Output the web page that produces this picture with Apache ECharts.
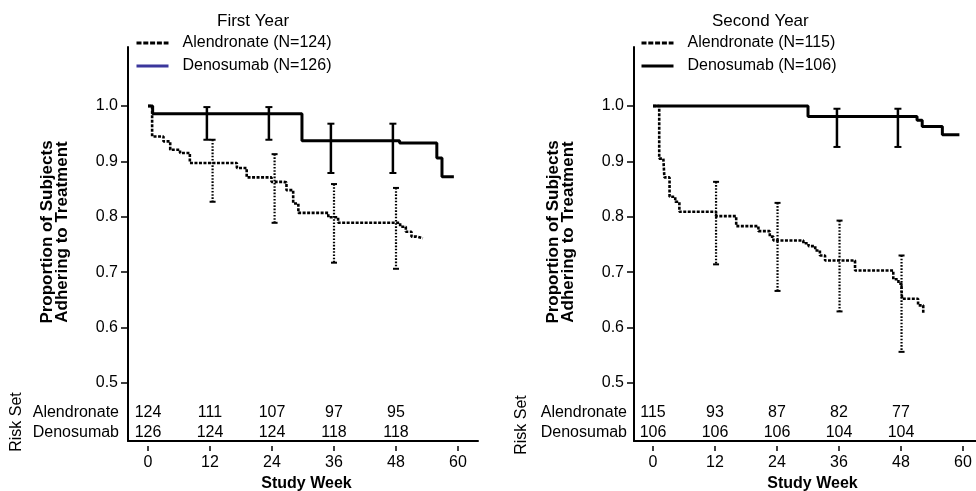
<!DOCTYPE html>
<html>
<head>
<meta charset="utf-8">
<script src="https://cdn.jsdelivr.net/npm/echarts@6/dist/echarts.min.js"></script>
<style>html,body{margin:0;padding:0;background:#fff}#c{width:976px;height:491px}</style>
</head>
<body>
<div id="c"></div>
<script>
// ---------- data ----------
const panelTitles = ['First Year', 'Second Year'];
const alenNames = ['Alendronate (N=124)', 'Alendronate (N=115)'];
const denoNames = ['Denosumab (N=126)', 'Denosumab (N=106)'];
const xTicks = [0, 12, 24, 36, 48, 60];
const yTicks = [0.5, 0.6, 0.7, 0.8, 0.9, 1.0];
const riskWeeks = [0, 12, 24, 36, 48];
const riskRowNames = ['Alendronate', 'Denosumab'];

// First year KM curves
const y1AlenWeeks  = [0, 0.8, 3.0, 4.3, 6.2, 8.1, 17.2, 19.1, 23.9, 26.2, 26.8, 28.1, 29.1, 34.9, 36.8, 48.8, 49.9, 51.0, 52.0, 53.2];
const y1AlenValues = [1.0, 0.945, 0.936, 0.921, 0.915, 0.897, 0.888, 0.871, 0.863, 0.862, 0.848, 0.824, 0.807, 0.799, 0.789, 0.782, 0.773, 0.764, 0.761, 0.761];
const y1DenoWeeks  = [0, 0.9, 29.8, 48.7, 55.9, 56.9, 59.2];
const y1DenoValues = [1.0, 0.986, 0.937, 0.933, 0.906, 0.872, 0.872];
// First year error bars
const y1AlenErrWeeks = [12.5, 24.5, 36.0, 48.0];
const y1AlenErrLow   = [0.827, 0.789, 0.717, 0.706];
const y1AlenErrHigh  = [0.939, 0.913, 0.859, 0.852];
const y1DenoErrWeeks = [11.4, 23.4, 35.4, 47.4];
const y1DenoErrLow   = [0.939, 0.939, 0.879, 0.879];
const y1DenoErrHigh  = [0.998, 0.998, 0.968, 0.968];
// First year risk set
const y1RiskAlen = [124, 111, 107, 97, 95];
const y1RiskDeno = [126, 124, 124, 118, 118];

// Second year KM curves
const y2AlenWeeks  = [0, 1.2, 2.0, 2.2, 3.2, 4.3, 5.1, 12.2, 16.1, 20.4, 22.6, 23.3, 29.1, 30.1, 31.4, 32.3, 33.3, 39.1, 46.5, 47.5, 48.1, 48.2, 51.3, 52.3];
const y2AlenValues = [1.0, 0.905, 0.902, 0.871, 0.836, 0.827, 0.809, 0.801, 0.783, 0.774, 0.764, 0.757, 0.752, 0.747, 0.739, 0.730, 0.721, 0.703, 0.687, 0.679, 0.667, 0.652, 0.640, 0.625];
const y2DenoWeeks  = [0, 30.0, 51.1, 52.1, 56.0, 59.3];
const y2DenoValues = [1.0, 0.981, 0.974, 0.963, 0.948, 0.948];
// Second year error bars
const y2AlenErrWeeks = [12.2, 24.1, 36.1, 48.1];
const y2AlenErrLow   = [0.714, 0.666, 0.629, 0.556];
const y2AlenErrHigh  = [0.863, 0.825, 0.793, 0.730];
const y2DenoErrWeeks = [35.6, 47.4];
const y2DenoErrLow   = [0.926, 0.926];
const y2DenoErrHigh  = [0.995, 0.995];
// Second year risk set
const y2RiskAlen = [115, 93, 87, 82, 77];
const y2RiskDeno = [106, 106, 106, 104, 104];

// ---------- build ----------
const FONT = '"Liberation Sans", Arial, Helvetica, sans-serif';
const zip = (a, b) => a.map((v, i) => [v, b[i]]);
const zip3 = (a, b, c) => a.map((v, i) => [v, b[i], c[i]]);

const panels = [
  { alen: zip(y1AlenWeeks, y1AlenValues), deno: zip(y1DenoWeeks, y1DenoValues),
    alenErr: zip3(y1AlenErrWeeks, y1AlenErrLow, y1AlenErrHigh), denoErr: zip3(y1DenoErrWeeks, y1DenoErrLow, y1DenoErrHigh),
    risk: [y1RiskAlen, y1RiskDeno], gridLeft: 128, xMin: -3.87, xMax: 63.87,
    legendLeft: 135, titleLeft: 217, denoLegendColor: '#3b379c',
    riskLabelX: 119, riskSetX: 17, riskSetY: 422 },
  { alen: zip(y2AlenWeeks, y2AlenValues), deno: zip(y2DenoWeeks, y2DenoValues),
    alenErr: zip3(y2AlenErrWeeks, y2AlenErrLow, y2AlenErrHigh), denoErr: zip3(y2DenoErrWeeks, y2DenoErrLow, y2DenoErrHigh),
    risk: [y2RiskAlen, y2RiskDeno], gridLeft: 634, xMin: -3.68, xMax: 64.06,
    legendLeft: 640, titleLeft: 712, denoLegendColor: '#000',
    riskLabelX: 627, riskSetX: 522, riskSetY: 425 }
];

const Y_MIN = 0.395, Y_MAX = 1.1065;

function errBarRender(dotted) {
  return function (params, api) {
    const x = api.value(0), lo = api.value(1), hi = api.value(2);
    const a = api.coord([x, hi]), b = api.coord([x, lo]);
    const w = dotted ? 3 : 3.5;
    return { type: 'group', children: [
      { type: 'line', shape: { x1: a[0], y1: a[1], x2: b[0], y2: b[1] },
        style: { stroke: '#000', lineWidth: dotted ? 2.2 : 2.5, lineDash: dotted ? [1.6, 1.6] : null } },
      { type: 'line', shape: { x1: a[0] - w, y1: a[1], x2: a[0] + w, y2: a[1] }, style: { stroke: '#000', lineWidth: 2 } },
      { type: 'line', shape: { x1: b[0] - w, y1: b[1], x2: b[0] + w, y2: b[1] }, style: { stroke: '#000', lineWidth: 2 } }
    ]};
  };
}

const riskRowOffsets = [28, 8];
function riskRender(params, api) {
  const wk = api.value(0), n = api.value(1), row = api.value(2);
  const p = api.coord([wk, Y_MIN]);
  const cs = params.coordSys;
  return { type: 'text', style: { text: String(n), x: p[0], y: cs.y + cs.height - riskRowOffsets[row],
    align: 'center', verticalAlign: 'middle', font: '16px ' + FONT, fill: '#000' } };
}

const hiddenSymbol = { color: 'rgba(0,0,0,0)', borderColor: 'rgba(0,0,0,0)', borderWidth: 0, opacity: 0 };

const option = {
  animation: false,
  backgroundColor: '#fff',
  textStyle: { fontFamily: FONT, color: '#000' },
  title: [], legend: [], grid: [], xAxis: [], yAxis: [], series: [], graphic: []
};

panels.forEach((p, i) => {
  option.title.push({ text: panelTitles[i], left: p.titleLeft, top: 13, padding: 0,
    textStyle: { fontFamily: FONT, fontSize: 17, fontWeight: 'normal', color: '#000' } });
  option.legend.push({ left: p.legendLeft, top: 35, orient: 'vertical', padding: 0, itemWidth: 32, itemHeight: 14, itemGap: 7,
    selectedMode: false,
    textStyle: { fontFamily: FONT, fontSize: 16, color: '#000', padding: [0, 0, 0, 9] },
    data: [ { name: alenNames[i], lineStyle: { color: '#000', width: 3, type: [5, 1.8] }, itemStyle: hiddenSymbol },
            { name: denoNames[i], lineStyle: { color: p.denoLegendColor, width: 3, type: 'solid' }, itemStyle: hiddenSymbol } ] });
  option.grid.push({ left: p.gridLeft, top: 47, width: 350, height: 394, containLabel: false, outerBoundsMode: 'none' });
  // axis line only
  option.xAxis.push({ type: 'value', gridIndex: i, min: p.xMin, max: p.xMax, position: 'bottom',
    axisLine: { show: true, onZero: false, lineStyle: { color: '#000', width: 2 } },
    axisTick: { show: false }, axisLabel: { show: false }, splitLine: { show: false } });
  // offset ticks + labels
  option.xAxis.push({ type: 'value', gridIndex: i, min: p.xMin, max: p.xMax, position: 'bottom', offset: 5,
    axisLine: { show: false, onZero: false },
    axisTick: { show: true, length: 5, customValues: xTicks, lineStyle: { color: '#000', width: 1.5 } },
    axisLabel: { show: true, customValues: xTicks, margin: 9, fontSize: 16, color: '#000', fontFamily: FONT },
    splitLine: { show: false },
    name: 'Study Week', nameLocation: 'middle', nameGap: 30,
    nameTextStyle: { fontFamily: FONT, fontSize: 16, fontWeight: 'bold', color: '#000', padding: [0, 0, 0, 7] } });
  option.yAxis.push({ type: 'value', gridIndex: i, min: Y_MIN, max: Y_MAX,
    axisLine: { show: true, onZero: false, lineStyle: { color: '#000', width: 2 } },
    axisTick: { show: true, length: 7, customValues: yTicks, lineStyle: { color: '#000', width: 1.5 } },
    axisLabel: { show: true, customValues: yTicks, margin: 10, fontSize: 16, color: '#000', fontFamily: FONT,
      formatter: v => v.toFixed(1) },
    splitLine: { show: false },
    name: 'Proportion of Subjects\nAdhering to Treatment', nameLocation: 'middle', nameRotate: 90, nameGap: 58,
    nameTextStyle: { fontFamily: FONT, fontSize: 17, fontWeight: 'bold', color: '#000', lineHeight: 15, padding: [0, 0, 0, 24] } });

  const xi = i * 2;
  option.series.push({ type: 'line', name: alenNames[i], xAxisIndex: xi, yAxisIndex: i, data: p.alen, step: 'end',
    symbol: 'none', lineStyle: { color: '#000', width: 2.6, type: [3, 1.5] }, itemStyle: { color: '#000' }, z: 3 });
  option.series.push({ type: 'line', name: denoNames[i], xAxisIndex: xi, yAxisIndex: i, data: p.deno, step: 'end',
    symbol: 'none', lineStyle: { color: '#000', width: 3, type: 'solid' }, itemStyle: { color: '#000' }, z: 3 });
  option.series.push({ type: 'custom', name: alenNames[i] + ' CI', xAxisIndex: xi, yAxisIndex: i, data: p.alenErr,
    encode: { x: 0, y: [1, 2] }, renderItem: errBarRender(true), z: 4 });
  option.series.push({ type: 'custom', name: denoNames[i] + ' CI', xAxisIndex: xi, yAxisIndex: i, data: p.denoErr,
    encode: { x: 0, y: [1, 2] }, renderItem: errBarRender(false), z: 4 });
  const riskData = [];
  p.risk.forEach((row, r) => row.forEach((n, k) => riskData.push([riskWeeks[k], n, r])));
  option.series.push({ type: 'custom', name: 'Risk Set ' + (i + 1), xAxisIndex: xi, yAxisIndex: i, data: riskData,
    encode: { x: 0 }, renderItem: riskRender, z: 5, silent: true });

  riskRowNames.forEach((nm, r) => {
    option.graphic.push({ type: 'text', x: p.riskLabelX, y: 441 - riskRowOffsets[r],
      style: { text: nm, align: 'right', verticalAlign: 'middle', font: '16px ' + FONT, fill: '#000' } });
  });
  option.graphic.push({ type: 'text', x: p.riskSetX, y: p.riskSetY, rotation: Math.PI / 2,
    style: { text: 'Risk Set', align: 'center', verticalAlign: 'middle', font: '16px ' + FONT, fill: '#000' } });
});

const chart = echarts.init(document.getElementById('c'), null, { renderer: 'canvas' });
chart.setOption(option);
</script>
</body>
</html>
